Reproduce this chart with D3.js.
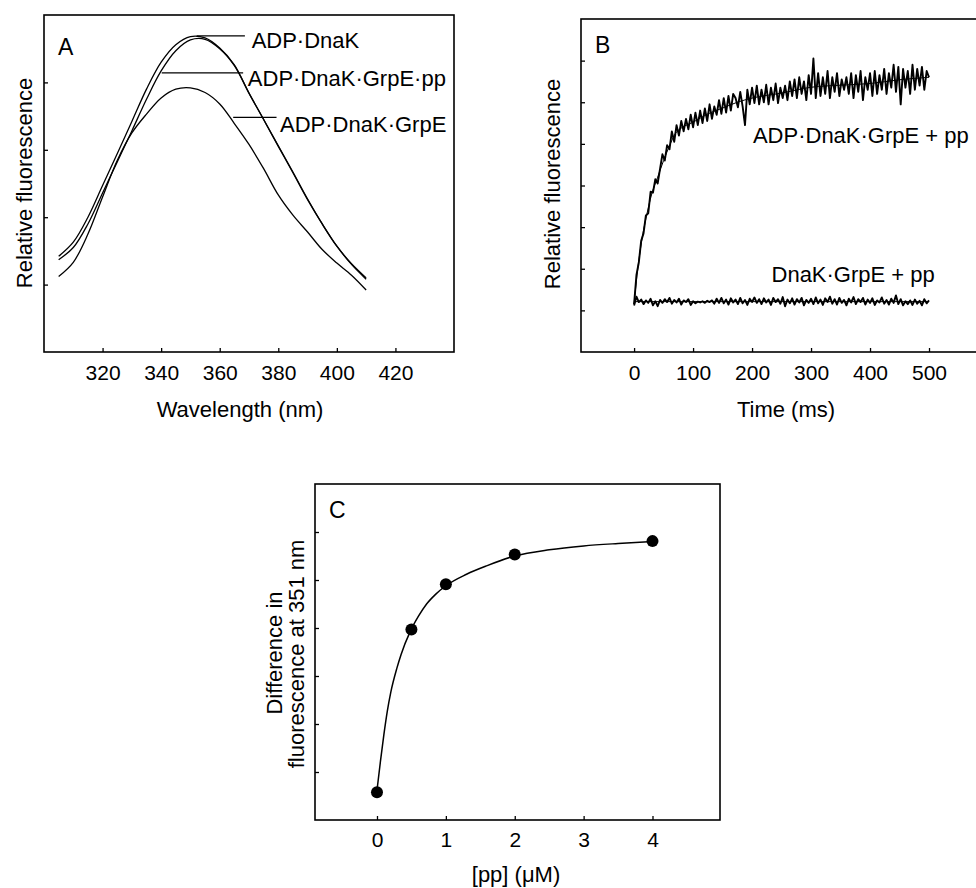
<!DOCTYPE html>
<html>
<head>
<meta charset="utf-8">
<script src="https://cdn.jsdelivr.net/npm/d3@7"></script>
<style>
  body { margin: 0; background: #fff; }
  svg { display: block; }
  text { font-family: "Liberation Sans", Arial, Helvetica, sans-serif; fill: #000; }
</style>
</head>
<body>
<script>
// ---- panel A: emission spectra ----
const wavelength = [305, 310, 315, 320, 325, 330, 335, 340, 345, 350, 355,
                    360, 365, 370, 375, 380, 385, 390, 395, 400, 405, 410];
const specAdpDnaK = [1.42, 1.63, 2.0, 2.47, 2.94, 3.42, 3.9, 4.3, 4.56, 4.68, 4.66,
                     4.51, 4.26, 3.84, 3.45, 3.06, 2.67, 2.27, 1.9, 1.57, 1.31, 1.1];
const specAdpDnaKGrpEpp = [1.37, 1.55, 1.9, 2.36, 2.82, 3.28, 3.75, 4.17, 4.47, 4.63, 4.64,
                           4.5, 4.25, 3.84, 3.45, 3.05, 2.66, 2.26, 1.9, 1.57, 1.3, 1.08];
const specAdpDnaKGrpE = [1.12, 1.33, 1.75, 2.3, 2.84, 3.25, 3.53, 3.77, 3.9, 3.92, 3.85,
                         3.68, 3.39, 3.08, 2.72, 2.33, 2.03, 1.78, 1.52, 1.32, 1.14, 0.92];
const ticksA = [320, 340, 360, 380, 400, 420];

// ---- panel B: stopped-flow traces, one value every 4 ms ----
const timeMs = d3.range(0, 501, 4);
const traceWithAdp = [
  1.15, 1.85, 2.15, 2.67, 2.85, 3.28, 3.33, 3.85, 3.83, 4.15,
  4.05, 4.4, 4.75, 4.6, 4.97, 4.87, 5.3, 5.05, 5.45, 5.2,
  5.55, 5.3, 5.6, 5.35, 5.7, 5.4, 5.75, 5.45, 5.8, 5.5,
  5.85, 5.55, 5.95, 5.6, 5.9, 5.7, 6.05, 5.72, 6.1, 5.75,
  6.15, 5.8, 6.2, 6.1, 5.88, 6.25, 5.9, 5.45, 6.3, 5.95,
  6.35, 5.98, 6.4, 5.95, 6.3, 6.0, 6.42, 5.95, 6.35, 6.05,
  6.45, 5.98, 6.35, 6.1, 6.4, 6.05, 6.5, 6.15, 6.55, 6.1,
  6.6, 6.2, 6.5, 6.05, 6.65, 6.2, 7.05, 6.1, 6.7, 6.15,
  6.6, 6.2, 6.75, 6.1, 6.6, 6.25, 6.7, 6.15, 6.55, 6.3,
  6.6, 6.2, 6.7, 6.1, 6.65, 6.25, 6.75, 6.05, 6.6, 6.3,
  6.7, 6.15, 6.75, 6.2, 6.65, 6.3, 6.8, 6.2, 6.7, 6.35,
  6.9, 6.25, 6.85, 5.95, 6.8, 6.35, 6.75, 6.2, 6.9, 6.3,
  6.8, 6.4, 6.85, 6.3, 6.75, 6.6
];
const traceNoAdp = [
  1.12, 1.33, 1.2, 1.26, 1.15, 1.24, 1.18, 1.28, 1.12, 1.22,
  1.1, 1.25, 1.18, 1.27, 1.2, 1.3, 1.16, 1.25, 1.19, 1.28,
  1.14, 1.24, 1.2, 1.27, 1.13, 1.22, 1.17, 1.21, 1.19, 1.22,
  1.18, 1.23, 1.2, 1.24, 1.16, 1.28, 1.18, 1.3, 1.17, 1.26,
  1.14, 1.29, 1.19, 1.26, 1.15, 1.3, 1.17, 1.25, 1.13, 1.28,
  1.2, 1.31, 1.18, 1.27, 1.15, 1.29, 1.19, 1.26, 1.13, 1.3,
  1.2, 1.27, 1.16, 1.32, 1.1, 1.26, 1.17, 1.29, 1.14, 1.27,
  1.19, 1.3, 1.12, 1.25, 1.18, 1.28, 1.15, 1.31, 1.17, 1.26,
  1.13, 1.29, 1.2, 1.33, 1.16, 1.27, 1.14, 1.3, 1.18, 1.25,
  1.12, 1.28, 1.19, 1.32, 1.15, 1.27, 1.2, 1.3, 1.14, 1.26,
  1.18, 1.29, 1.13, 1.24, 1.19, 1.31, 1.16, 1.25, 1.14, 1.28,
  1.18, 1.36, 1.15, 1.27, 1.12, 1.22, 1.15, 1.24, 1.13, 1.26,
  1.16, 1.23, 1.12, 1.27, 1.17, 1.24
];
// fitted curves drawn under the traces
const fitTimeMs = [0, 5, 10, 15, 20, 30, 40, 50, 60, 70, 80, 100, 125, 150, 175, 200, 250, 300, 350, 400, 450, 500];
const fitWithAdp = [1.15, 1.85, 2.4, 2.85, 3.2, 3.8, 4.2, 4.6, 4.95, 5.25, 5.38, 5.52, 5.72, 5.86, 6.0, 6.1, 6.22, 6.36, 6.41, 6.45, 6.54, 6.6];
const fitNoAdpTime = [0, 500];
const fitNoAdp = [1.21, 1.21];
const ticksB = [0, 100, 200, 300, 400, 500];

// ---- panel C: titration ----
const ppConc = [0, 0.5, 1, 2, 4];
const fluorDiff = [0.58, 3.97, 4.91, 5.53, 5.81];
const fitConc = [0, 0.05, 0.1, 0.15, 0.2, 0.29, 0.35, 0.48, 0.6, 0.72, 0.85, 1.0, 1.3, 1.6, 2.0, 2.5, 3.0, 3.5, 4.0];
const fitDiff = [0.62, 1.22, 1.78, 2.27, 2.66, 3.17, 3.45, 3.92, 4.24, 4.5, 4.7, 4.88, 5.12, 5.3, 5.5, 5.63, 5.71, 5.76, 5.8];
const ticksC = [0, 1, 2, 3, 4];

const W = 976, H = 888;
const svg = d3.select('body').append('svg')
  .attr('width', W)
  .attr('height', H);

svg.append('rect').attr('width', W).attr('height', H).attr('fill', '#fff');

// one framed panel with inward ticks
function panel(opts) {
  const x = d3.scaleLinear().domain(opts.xDomain).range([opts.left, opts.right]);
  const y = d3.scaleLinear().domain(opts.yDomain).range([opts.bottom, opts.top]);
  const g = svg.append('g');

  g.append('rect')
    .attr('x', opts.left)
    .attr('y', opts.top)
    .attr('width', opts.right - opts.left)
    .attr('height', opts.bottom - opts.top)
    .attr('fill', 'none')
    .attr('stroke', '#000')
    .attr('stroke-width', 1.6);

  const xAxis = g.append('g')
    .attr('transform', `translate(0,${opts.bottom})`)
    .call(d3.axisBottom(x)
      .tickValues(opts.xTicks)
      .tickFormat(d3.format('d'))
      .tickSizeInner(-4).tickSizeOuter(0)
      .tickPadding(opts.pad));
  xAxis.select('.domain').remove();
  xAxis.selectAll('text')
    .attr('font-size', 21)
    .attr('font-family', '"Liberation Sans", Arial, sans-serif');
  xAxis.selectAll('line').attr('stroke-width', 1.3);

  const yAxis = g.append('g')
    .attr('transform', `translate(${opts.left},0)`)
    .call(d3.axisLeft(y).tickValues(opts.yTicks).tickSizeInner(-4).tickSizeOuter(0).tickFormat(''));
  yAxis.select('.domain').remove();
  yAxis.selectAll('line').attr('stroke-width', 1.3);

  g.append('text')
    .attr('x', opts.left + 14)
    .attr('y', opts.letterY)
    .attr('font-size', 23)
    .text(opts.letter);

  return { g, x, y };
}

function lineOf(xs, ys, sx, sy, curve) {
  return d3.line()
    .x((d, i) => sx(xs[i]))
    .y(d => sy(d))
    .curve(curve || d3.curveLinear)(ys);
}

// ---------- A ----------
const A = panel({
  left: 44, right: 454, top: 15, bottom: 352,
  xDomain: [300, 440], yDomain: [0, 5],
  xTicks: ticksA, yTicks: [1, 2, 3, 4], pad: 13,
  letter: 'A', letterY: 55
});

[specAdpDnaK, specAdpDnaKGrpEpp, specAdpDnaKGrpE].forEach(s => {
  A.g.append('path')
    .attr('d', lineOf(wavelength, s, A.x, A.y, d3.curveCatmullRom))
    .attr('fill', 'none')
    .attr('stroke', '#000')
    .attr('stroke-width', 1.3);
});

const labelsA = [
  { text: 'ADP·DnaK', x1: 352.1, x2: 368.6, yLine: 4.69, tx: 370.9, ty: 4.51 },
  { text: 'ADP·DnaK·GrpE·pp', x1: 340.2, x2: 368.0, yLine: 4.14, tx: 369.6, ty: 3.94 },
  { text: 'ADP·DnaK·GrpE', x1: 364.6, x2: 379.4, yLine: 3.48, tx: 380.6, ty: 3.26 }
];
labelsA.forEach(l => {
  A.g.append('line')
    .attr('x1', A.x(l.x1)).attr('x2', A.x(l.x2))
    .attr('y1', A.y(l.yLine)).attr('y2', A.y(l.yLine))
    .attr('stroke', '#000').attr('stroke-width', 1.2);
  A.g.append('text')
    .attr('x', A.x(l.tx)).attr('y', A.y(l.ty))
    .attr('font-size', 22)
    .text(l.text);
});

A.g.append('text')
  .attr('transform', 'translate(31.5,183) rotate(-90)')
  .attr('text-anchor', 'middle')
  .attr('font-size', 22)
  .text('Relative fluorescence');

A.g.append('text')
  .attr('x', 240).attr('y', 417)
  .attr('text-anchor', 'middle')
  .attr('font-size', 22)
  .text('Wavelength (nm)');

// ---------- B ----------
const B = panel({
  left: 581, right: 988, top: 19, bottom: 352,
  xDomain: [-90, 600], yDomain: [0, 8],
  xTicks: ticksB, yTicks: [1, 2, 3, 4, 5, 6, 7], pad: 13,
  letter: 'B', letterY: 53
});

B.g.append('path')
  .attr('d', lineOf(fitTimeMs, fitWithAdp, B.x, B.y, d3.curveMonotoneX))
  .attr('fill', 'none').attr('stroke', '#000').attr('stroke-width', 1);
B.g.append('path')
  .attr('d', lineOf(fitNoAdpTime, fitNoAdp, B.x, B.y))
  .attr('fill', 'none').attr('stroke', '#000').attr('stroke-width', 1);

[traceWithAdp, traceNoAdp].forEach(tr => {
  B.g.append('path')
    .attr('d', lineOf(timeMs, tr, B.x, B.y))
    .attr('fill', 'none')
    .attr('stroke', '#000')
    .attr('stroke-width', 1.9)
    .attr('stroke-linejoin', 'round');
});

B.g.append('text')
  .attr('x', B.x(201.5)).attr('y', B.y(5.01))
  .attr('font-size', 22)
  .text('ADP·DnaK·GrpE + pp');
B.g.append('text')
  .attr('x', B.x(233)).attr('y', B.y(1.69))
  .attr('font-size', 22)
  .text('DnaK·GrpE + pp');

B.g.append('text')
  .attr('transform', 'translate(560,184) rotate(-90)')
  .attr('text-anchor', 'middle')
  .attr('font-size', 22)
  .text('Relative fluorescence');

B.g.append('text')
  .attr('x', 786).attr('y', 417)
  .attr('text-anchor', 'middle')
  .attr('font-size', 22)
  .text('Time (ms)');

// ---------- C ----------
const C = panel({
  left: 315, right: 720, top: 484, bottom: 820,
  xDomain: [-0.9, 4.98], yDomain: [0, 7],
  xTicks: ticksC, yTicks: [1, 2, 3, 4, 5, 6], pad: 12,
  letter: 'C', letterY: 518
});

C.g.append('path')
  .attr('d', lineOf(fitConc, fitDiff, C.x, C.y, d3.curveMonotoneX))
  .attr('fill', 'none')
  .attr('stroke', '#000')
  .attr('stroke-width', 1.5);

C.g.selectAll('circle')
  .data(ppConc)
  .join('circle')
  .attr('cx', d => C.x(d))
  .attr('cy', (d, i) => C.y(fluorDiff[i]))
  .attr('r', 6)
  .attr('fill', '#000');

C.g.append('text')
  .attr('transform', 'translate(281.5,653) rotate(-90)')
  .attr('text-anchor', 'middle')
  .attr('font-size', 22)
  .text('Difference in');
C.g.append('text')
  .attr('transform', 'translate(303.5,654) rotate(-90)')
  .attr('text-anchor', 'middle')
  .attr('font-size', 22)
  .text('fluorescence at 351 nm');

C.g.append('text')
  .attr('x', 516).attr('y', 882)
  .attr('text-anchor', 'middle')
  .attr('font-size', 22)
  .text('[pp] (μM)');
</script>
</body>
</html>
